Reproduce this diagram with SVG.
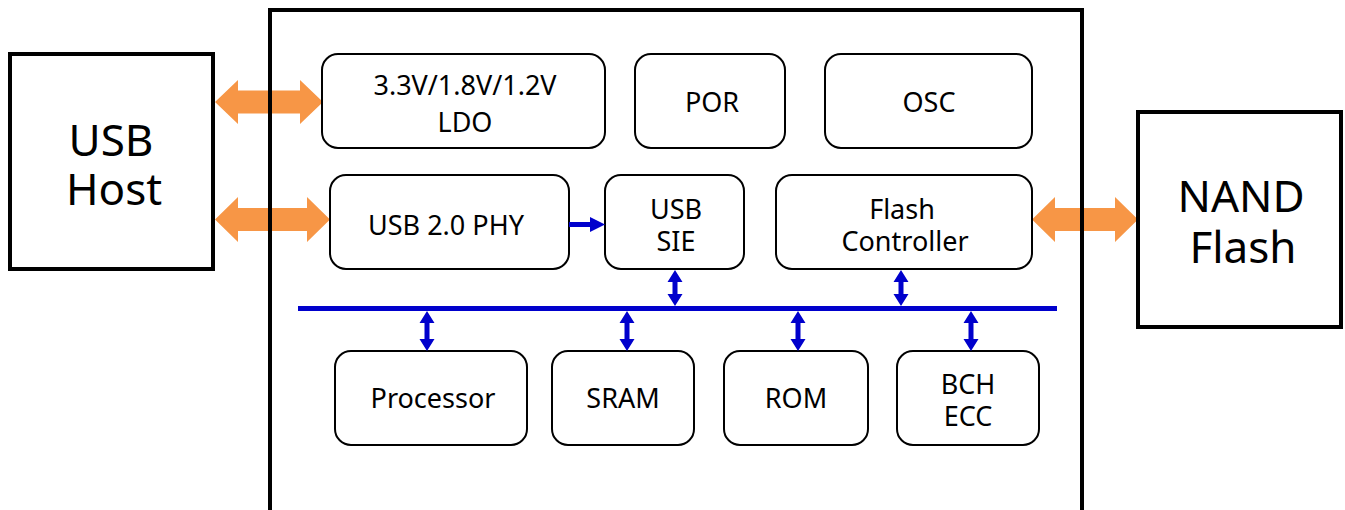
<svg xmlns="http://www.w3.org/2000/svg" width="1345" height="510" viewBox="0 0 1345 510">
<style>
.big{fill:#fff;stroke:#000;stroke-width:4}
.chip{fill:none;stroke:#000;stroke-width:4}
.blk{fill:#fff;stroke:#000;stroke-width:2}
text{font-family:"Noto Sans","Open Sans","DejaVu Sans",sans-serif;fill:#000;text-anchor:middle}
.t{font-size:27px}
.tb{font-size:44px}
.orange{fill:#F79646}
.blue{fill:#0000CC}
.bus{stroke:#0000CC;stroke-width:5}
</style>
<rect x="0" y="0" width="1345" height="510" fill="#fff"/>
<g id="connectors">
<polygon class="orange" points="215,102 238,80 238,90.5 300,90.5 300,80 323,102 300,124 300,113.5 238,113.5 238,124"/>
<polygon class="orange" points="215,219.5 238,197 238,208 307,208 307,197 330,219.5 307,242 307,231 238,231 238,242"/>
<polygon class="orange" points="1032,219.5 1055,197 1055,208 1115,208 1115,197 1138,219.5 1115,242 1115,231 1055,231 1055,242"/>
</g>
<g id="chip"><rect class="chip" x="270" y="10" width="812" height="530"/></g>
<g id="usb-host"><rect class="big" x="10" y="54" width="203" height="215"/><text class="tb" x="111" y="156">USB</text><text class="tb" x="114" y="205">Host</text></g>
<g id="nand-flash"><rect class="big" x="1138" y="112" width="203" height="215"/><text class="tb" x="1241" y="212">NAND</text><text class="tb" x="1243" y="263">Flash</text></g>
<g id="ldo"><rect class="blk" x="322" y="54" width="283" height="94" rx="16"/><text class="t" x="465" y="95">3.3V/1.8V/1.2V</text><text class="t" x="465" y="132">LDO</text></g>
<g id="por"><rect class="blk" x="635" y="54" width="150" height="94" rx="16"/><text class="t" x="712" y="112">POR</text></g>
<g id="osc"><rect class="blk" x="825" y="54" width="207" height="94" rx="16"/><text class="t" x="929" y="112">OSC</text></g>
<g id="usb-phy"><rect class="blk" x="330" y="175" width="239" height="94" rx="16"/><text class="t" x="446" y="235">USB 2.0 PHY</text></g>
<g id="usb-sie"><rect class="blk" x="605" y="175" width="139" height="94" rx="16"/><text class="t" x="676" y="219">USB</text><text class="t" x="676" y="251">SIE</text></g>
<g id="flash-controller"><rect class="blk" x="776" y="175" width="256" height="94" rx="16"/><text class="t" x="902" y="219">Flash</text><text class="t" x="905" y="251">Controller</text></g>
<g id="processor"><rect class="blk" x="335" y="351" width="192" height="94" rx="16"/><text class="t" x="433" y="408">Processor</text></g>
<g id="sram"><rect class="blk" x="552" y="351" width="142" height="94" rx="16"/><text class="t" x="623" y="408">SRAM</text></g>
<g id="rom"><rect class="blk" x="724" y="351" width="144" height="94" rx="16"/><text class="t" x="796" y="408">ROM</text></g>
<g id="bch-ecc"><rect class="blk" x="897" y="351" width="142" height="94" rx="16"/><text class="t" x="968" y="394">BCH</text><text class="t" x="968" y="426">ECC</text></g>
<g id="bus-connectors">
<line class="bus" x1="298" y1="308.5" x2="1057" y2="308.5"/>
<line class="bus" x1="569" y1="224.5" x2="592" y2="224.5"/>
<polygon class="blue" points="590,217 605,224.5 590,232"/>
<polygon class="blue" points="675,270 682.5,282 677.5,282 677.5,294 682.5,294 675,306 667.5,294 672.5,294 672.5,282 667.5,282"/>
<polygon class="blue" points="901,270 908.5,282 903.5,282 903.5,294 908.5,294 901,306 893.5,294 898.5,294 898.5,282 893.5,282"/>
<polygon class="blue" points="427,311 434.5,323 429.5,323 429.5,339 434.5,339 427,351 419.5,339 424.5,339 424.5,323 419.5,323"/>
<polygon class="blue" points="627,311 634.5,323 629.5,323 629.5,339 634.5,339 627,351 619.5,339 624.5,339 624.5,323 619.5,323"/>
<polygon class="blue" points="798,311 805.5,323 800.5,323 800.5,339 805.5,339 798,351 790.5,339 795.5,339 795.5,323 790.5,323"/>
<polygon class="blue" points="971,311 978.5,323 973.5,323 973.5,339 978.5,339 971,351 963.5,339 968.5,339 968.5,323 963.5,323"/>
</g>
</svg>
